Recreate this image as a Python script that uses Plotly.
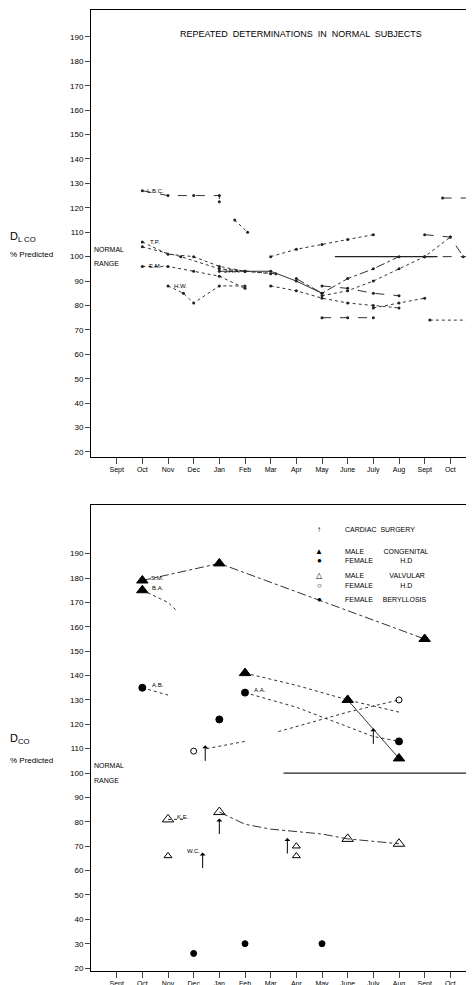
import plotly.graph_objects as go
from plotly.subplots import make_subplots

MONTHS = ["Sept", "Oct", "Nov", "Dec", "Jan", "Feb", "Mar", "Apr", "May", "June", "July", "Aug", "Sept", "Oct"]
Y_TICKS = list(range(20, 200, 10))

# top panel: normal subjects (x = month index, 0 = Sept)
top_series = [
    # label, x, y, dash
    ("L.B.C.", [1, 2, 3, 4, 4], [127, 125, 125, 125, 122.5], "dash"),
    ("", [4.6, 5.1], [115, 110], "dot"),
    ("T.P.", [1, 2, 3, 4, 5, 6], [106, 101, 100, 96, 94, 93], "dot"),
    ("", [1, 2.5, 4, 5, 6.2], [104, 100, 95, 94, 93], "dot"),
    ("E.M.", [1, 2, 3, 4, 5], [96, 96, 94, 92, 87], "dot"),
    ("H.W.", [2, 2.6, 3, 4, 5], [88, 85, 81, 88, 88], "dot"),
    ("J.H.A.", [4, 5, 6, 7, 8], [94, 94, 94, 90, 85], "solid"),
    ("", [6, 7, 8, 9, 10], [100, 103, 105, 107, 109], "dot"),
    ("", [6, 7, 8, 9, 10, 11], [88, 86, 83, 81, 80, 79], "dot"),
    ("", [7, 8, 9, 10, 11], [91, 85, 91, 95, 100], "dashdot"),
    ("", [8, 9, 10, 11, 12, 13], [84, 86, 90, 95, 100, 108], "dot"),
    ("", [8, 9, 10, 11], [88, 87, 85, 84], "dash"),
    ("", [10, 11, 12], [79, 81, 83], "dot"),
    ("", [8, 9, 10], [75, 75, 75], "dash"),
    ("", [12.2, 14], [74, 74], "dot"),
    ("", [12, 13, 13.5], [109, 108, 100], "dash"),
    ("", [12.7, 14], [124, 124], "dash"),
    ("", [12, 14], [100, 100], "dash"),
]
top_normal_x = [8.5, 12.5]
top_normal_y = [100, 100]

# bottom panel: patients
cong_male_x = [1, 1, 4, 12, 5, 9, 11]
cong_male_y = [179, 175, 186, 155, 141, 130, 106]
cong_female_x = [1, 5, 4, 11]
cong_female_y = [135, 133, 122, 113]
valv_male_x = [2, 4, 9, 11]
valv_male_y = [81, 84, 73, 71]
valv_male2_x = [2, 7, 7]
valv_male2_y = [66, 70, 66]
valv_female_x = [3, 11]
valv_female_y = [109, 130]
beryl_x = [3, 5, 8]
beryl_y = [26, 30, 30]
surgery_x = [3.45, 3.35, 4, 6.65, 10]
surgery_y = [105, 61, 75, 67, 112]

bottom_series = [
    ("S.M.", [1, 4, 12], [179, 186, 155], "dashdot"),
    ("B.A.", [1, 2, 2.3], [175, 170, 167], "dot"),
    ("A.B.", [1, 2], [135, 132], "dot"),
    ("", [5, 7, 9, 11], [141, 136, 130, 125], "dot"),
    ("", [9, 10, 11], [130, 118, 106], "solid"),
    ("A.A.", [5, 7, 9, 10, 11], [133, 127, 119, 115, 113], "dot"),
    ("", [6.3, 8, 9, 11], [117, 122, 125, 130], "dot"),
    ("", [3.5, 4, 5], [110, 111, 113], "dot"),
    ("K.E.", [2, 2.7], [81, 81], "dot"),
    ("", [4, 5, 6, 7, 8, 9, 11], [84, 79, 77, 76, 75, 73, 71], "dashdot"),
    ("W.C.", [2.4], [67], "dot"),
]


def month_axis(fig, row):
    fig.update_xaxes(range=[-1, 14], tickvals=list(range(14)), ticktext=MONTHS,
                     ticks="outside", ticklen=6, tickfont=dict(size=7, family="Liberation Sans"),
                     showgrid=False, zeroline=False, showline=True, linecolor="black",
                     mirror=True, row=row, col=1)


fig = make_subplots(rows=2, cols=1, vertical_spacing=0.04, row_heights=[0.5, 0.5])

for name, xs, ys, dash in top_series:
    fig.add_trace(go.Scatter(x=xs, y=ys, mode="lines+markers", line=dict(color="#333", width=1, dash=dash),
                             marker=dict(size=3, color="#222"), showlegend=False), row=1, col=1)
    if name:
        fig.add_annotation(x=xs[0] + 0.5, y=ys[0], text=name, showarrow=False, font=dict(size=6),
                           row=1, col=1)
fig.add_trace(go.Scatter(x=top_normal_x, y=top_normal_y, mode="lines", line=dict(color="#222", width=1.2),
                         showlegend=False), row=1, col=1)

for name, xs, ys, dash in bottom_series:
    fig.add_trace(go.Scatter(x=xs, y=ys, mode="lines", line=dict(color="#333", width=1, dash=dash),
                             showlegend=False), row=2, col=1)
    if name:
        fig.add_annotation(x=xs[0] + 0.6, y=ys[0] + 1, text=name, showarrow=False, font=dict(size=6),
                           row=2, col=1)
fig.add_trace(go.Scatter(x=[6.5, 14], y=[100, 100], mode="lines", line=dict(color="#222", width=1.2),
                         showlegend=False), row=2, col=1)

marks = [
    (cong_male_x, cong_male_y, "triangle-up", 10),
    (cong_female_x, cong_female_y, "circle", 7),
    (valv_male_x, valv_male_y, "triangle-up-open", 10),
    (valv_male2_x, valv_male2_y, "triangle-up-open", 7),
    (valv_female_x, valv_female_y, "circle-open", 6),
    (beryl_x, beryl_y, "circle", 6),
]
for xs, ys, sym, size in marks:
    fig.add_trace(go.Scatter(x=xs, y=ys, mode="markers",
                             marker=dict(symbol=sym, size=size, color="black", line=dict(color="black", width=1)),
                             showlegend=False), row=2, col=1)

# cardiac surgery arrows
for sx, sy in zip(surgery_x, surgery_y):
    fig.add_annotation(x=sx, y=sy, ax=sx, ay=sy + 7, xref="x2", yref="y2", axref="x2", ayref="y2",
                       showarrow=True, arrowhead=1, arrowsize=1, arrowwidth=1, arrowside="start",
                       arrowcolor="black", text="")

month_axis(fig, 1)
month_axis(fig, 2)
fig.update_yaxes(range=[18, 201], tickvals=Y_TICKS, ticks="outside", ticklen=5,
                 tickfont=dict(size=8, family="Liberation Sans"), showgrid=False, zeroline=False,
                 showline=True, linecolor="black", mirror=True, row=1, col=1)
fig.update_yaxes(range=[18.8, 210], tickvals=Y_TICKS, ticks="outside", ticklen=5,
                 tickfont=dict(size=8, family="Liberation Sans"), showgrid=False, zeroline=False,
                 showline=True, linecolor="black", mirror=True, row=2, col=1)

# legend and labels as text
fig.add_annotation(x=7.2, y=191, xref="x", yref="y", text="REPEATED  DETERMINATIONS  IN  NORMAL  SUBJECTS",
                   showarrow=False, font=dict(size=9))
for yref, y0 in (("y", 100), ("y2", 100)):
    fig.add_annotation(x=-0.95, y=y0 + 3, xref=yref.replace("y", "x"), yref=yref, text="NORMAL",
                       showarrow=False, xanchor="left", font=dict(size=7))
    fig.add_annotation(x=-0.95, y=y0 - 3, xref=yref.replace("y", "x"), yref=yref, text="RANGE",
                       showarrow=False, xanchor="left", font=dict(size=7))

legend_rows = [
    (200, "↑", "CARDIAC  SURGERY"),
    (191, "▲", "MALE          CONGENITAL"),
    (187, "●", "FEMALE              H.D"),
    (181, "△", "MALE             VALVULAR"),
    (177, "○", "FEMALE              H.D"),
    (171, "●", "FEMALE     BERYLLOSIS"),
]
for y, sym, txt in legend_rows:
    fig.add_annotation(x=7.9, y=y, xref="x2", yref="y2", text=sym, showarrow=False, font=dict(size=8))
    fig.add_annotation(x=8.8, y=y, xref="x2", yref="y2", text=txt, showarrow=False, xanchor="left",
                       font=dict(size=7))

fig.add_annotation(x=-0.216, y=0.773, xref="paper", yref="paper", text="D<sub>L CO</sub>",
                   showarrow=False, xanchor="left", font=dict(size=11))
fig.add_annotation(x=-0.216, y=0.752, xref="paper", yref="paper", text="% Predicted", showarrow=False,
                   xanchor="left", font=dict(size=8))
fig.add_annotation(x=-0.216, y=0.232, xref="paper", yref="paper", text="D<sub>CO</sub>",
                   showarrow=False, xanchor="left", font=dict(size=11))
fig.add_annotation(x=-0.216, y=0.212, xref="paper", yref="paper", text="% Predicted", showarrow=False,
                   xanchor="left", font=dict(size=8))

fig.update_layout(width=474, height=985, margin=dict(l=83, r=6, t=2, b=22),
                  plot_bgcolor="white", paper_bgcolor="white",
                  font=dict(family="Liberation Sans", color="black"))
fig.update_yaxes(domain=[0.535, 1.0], row=1, col=1)
fig.update_yaxes(domain=[0.0, 0.485], row=2, col=1)
fig.write_html("out.html")
